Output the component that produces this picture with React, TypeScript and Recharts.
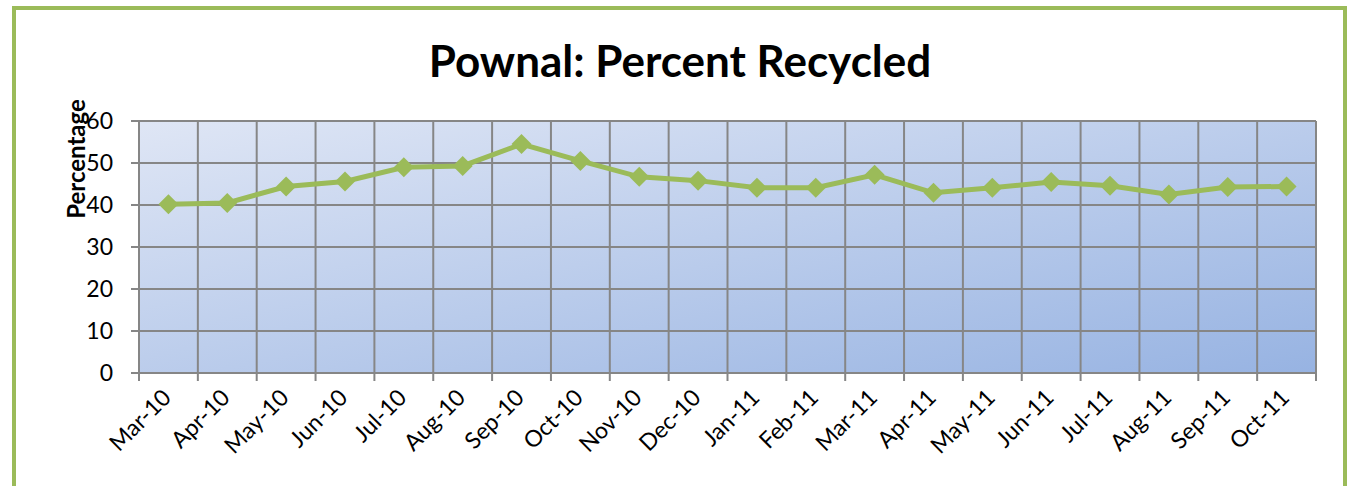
import { LineChart, Line, XAxis, YAxis, CartesianGrid, Label } from 'recharts';

const months = [
  'Mar-10', 'Apr-10', 'May-10', 'Jun-10', 'Jul-10', 'Aug-10', 'Sep-10', 'Oct-10', 'Nov-10', 'Dec-10',
  'Jan-11', 'Feb-11', 'Mar-11', 'Apr-11', 'May-11', 'Jun-11', 'Jul-11', 'Aug-11', 'Sep-11', 'Oct-11',
];
const percentRecycled = [
  40.2, 40.5, 44.4, 45.6, 49.0, 49.3, 54.5, 50.5, 46.7, 45.8,
  44.1, 44.1, 47.2, 42.9, 44.1, 45.5, 44.6, 42.5, 44.3, 44.4,
];
const yTicks = [0, 10, 20, 30, 40, 50, 60];

const data = months.map((month, i) => ({ month, pct: percentRecycled[i] }));

const GREEN = '#9BBB59';
const GRID = '#868686';
const FONT = 'Lato, "Open Sans", sans-serif';

const Diamond = (props: any) => {
  const { cx, cy } = props;
  if (cx == null || cy == null) return null;
  const r = 10;
  return (
    <polygon
      points={`${cx},${cy - r} ${cx + r},${cy} ${cx},${cy + r} ${cx - r},${cy}`}
      fill={GREEN}
    />
  );
};

// label plus a tick mark at each category boundary
const MonthTick = (props: any) => {
  const { x, y, payload, index } = props;
  const half = payload.offset ?? 0;
  return (
    <g>
      <line x1={x - half} x2={x - half} y1={y} y2={y + 8} stroke={GRID} strokeWidth={2} />
      {index === months.length - 1 && (
        <line x1={x + half} x2={x + half} y1={y} y2={y + 8} stroke={GRID} strokeWidth={2} />
      )}
      <g transform={`translate(${x + 4},${y + 26})`}>
        <text transform="rotate(-45)" textAnchor="end" fontSize={23} fontFamily={FONT} fill="#000">
          {payload.value}
        </text>
      </g>
    </g>
  );
};

const YTitle = (props: any) => {
  const { viewBox } = props;
  const cx = viewBox.x - 4;
  const cy = viewBox.y + 38;
  return (
    <text
      x={cx}
      y={cy}
      transform={`rotate(-90 ${cx} ${cy})`}
      textAnchor="middle"
      dominantBaseline="central"
      fontSize={24}
      fontWeight="bold"
      fontFamily={FONT}
      fill="#000"
    >
      Percentage
    </text>
  );
};

export default function App() {
  return (
    <div style={{ position: 'absolute', left: 0, top: 0, width: 1347, height: 486, overflow: 'hidden', background: '#fff' }}>
      <div
        style={{
          position: 'absolute',
          left: 12,
          top: 6,
          width: 1335,
          height: 520,
          boxSizing: 'border-box',
          border: `4px solid ${GREEN}`,
        }}
      />
      <div
        style={{
          position: 'absolute',
          left: 0,
          width: 1360,
          top: 36,
          textAlign: 'center',
          fontFamily: FONT,
          fontWeight: 'bold',
          fontSize: 44,
          lineHeight: '48px',
        }}
      >
        Pownal: Percent Recycled
      </div>
      <div style={{ position: 'absolute', left: 0, top: 0 }}>
        <LineChart width={1347} height={486} data={data} margin={{ top: 121, right: 31, bottom: 13, left: 79 }}>
          <defs>
            <linearGradient id="plotBg" x1="0" y1="0" x2="1" y2="1">
              <stop offset="0%" stopColor="#DFE6F5" />
              <stop offset="100%" stopColor="#97B3E2" />
            </linearGradient>
          </defs>
          <CartesianGrid
            fill="url(#plotBg)"
            fillOpacity={1}
            stroke={GRID}
            strokeWidth={2}
            verticalCoordinatesGenerator={({ offset }: any) =>
              [...months.map((_, i) => i), months.length].map(
                (i) => offset.left + (i * offset.width) / months.length
              )
            }
          />
          <XAxis
            dataKey="month"
            scale="band"
            interval={0}
            height={100}
            tickSize={0}
            tickMargin={0}
            axisLine={{ stroke: GRID, strokeWidth: 2 }}
            tickLine={false}
            tick={<MonthTick />}
          />
          <YAxis
            width={60}
            domain={[0, 60]}
            ticks={yTicks}
            tickSize={8}
            tickMargin={18}
            axisLine={{ stroke: GRID, strokeWidth: 2 }}
            tickLine={{ stroke: GRID, strokeWidth: 2 }}
            tick={{ fontSize: 23, fontFamily: FONT, fill: '#000' }}
          >
            <Label content={<YTitle />} />
          </YAxis>
          <Line
            dataKey="pct"
            stroke={GREEN}
            strokeWidth={5}
            dot={<Diamond />}
            activeDot={false}
            isAnimationActive={false}
          />
        </LineChart>
      </div>
    </div>
  );
}
